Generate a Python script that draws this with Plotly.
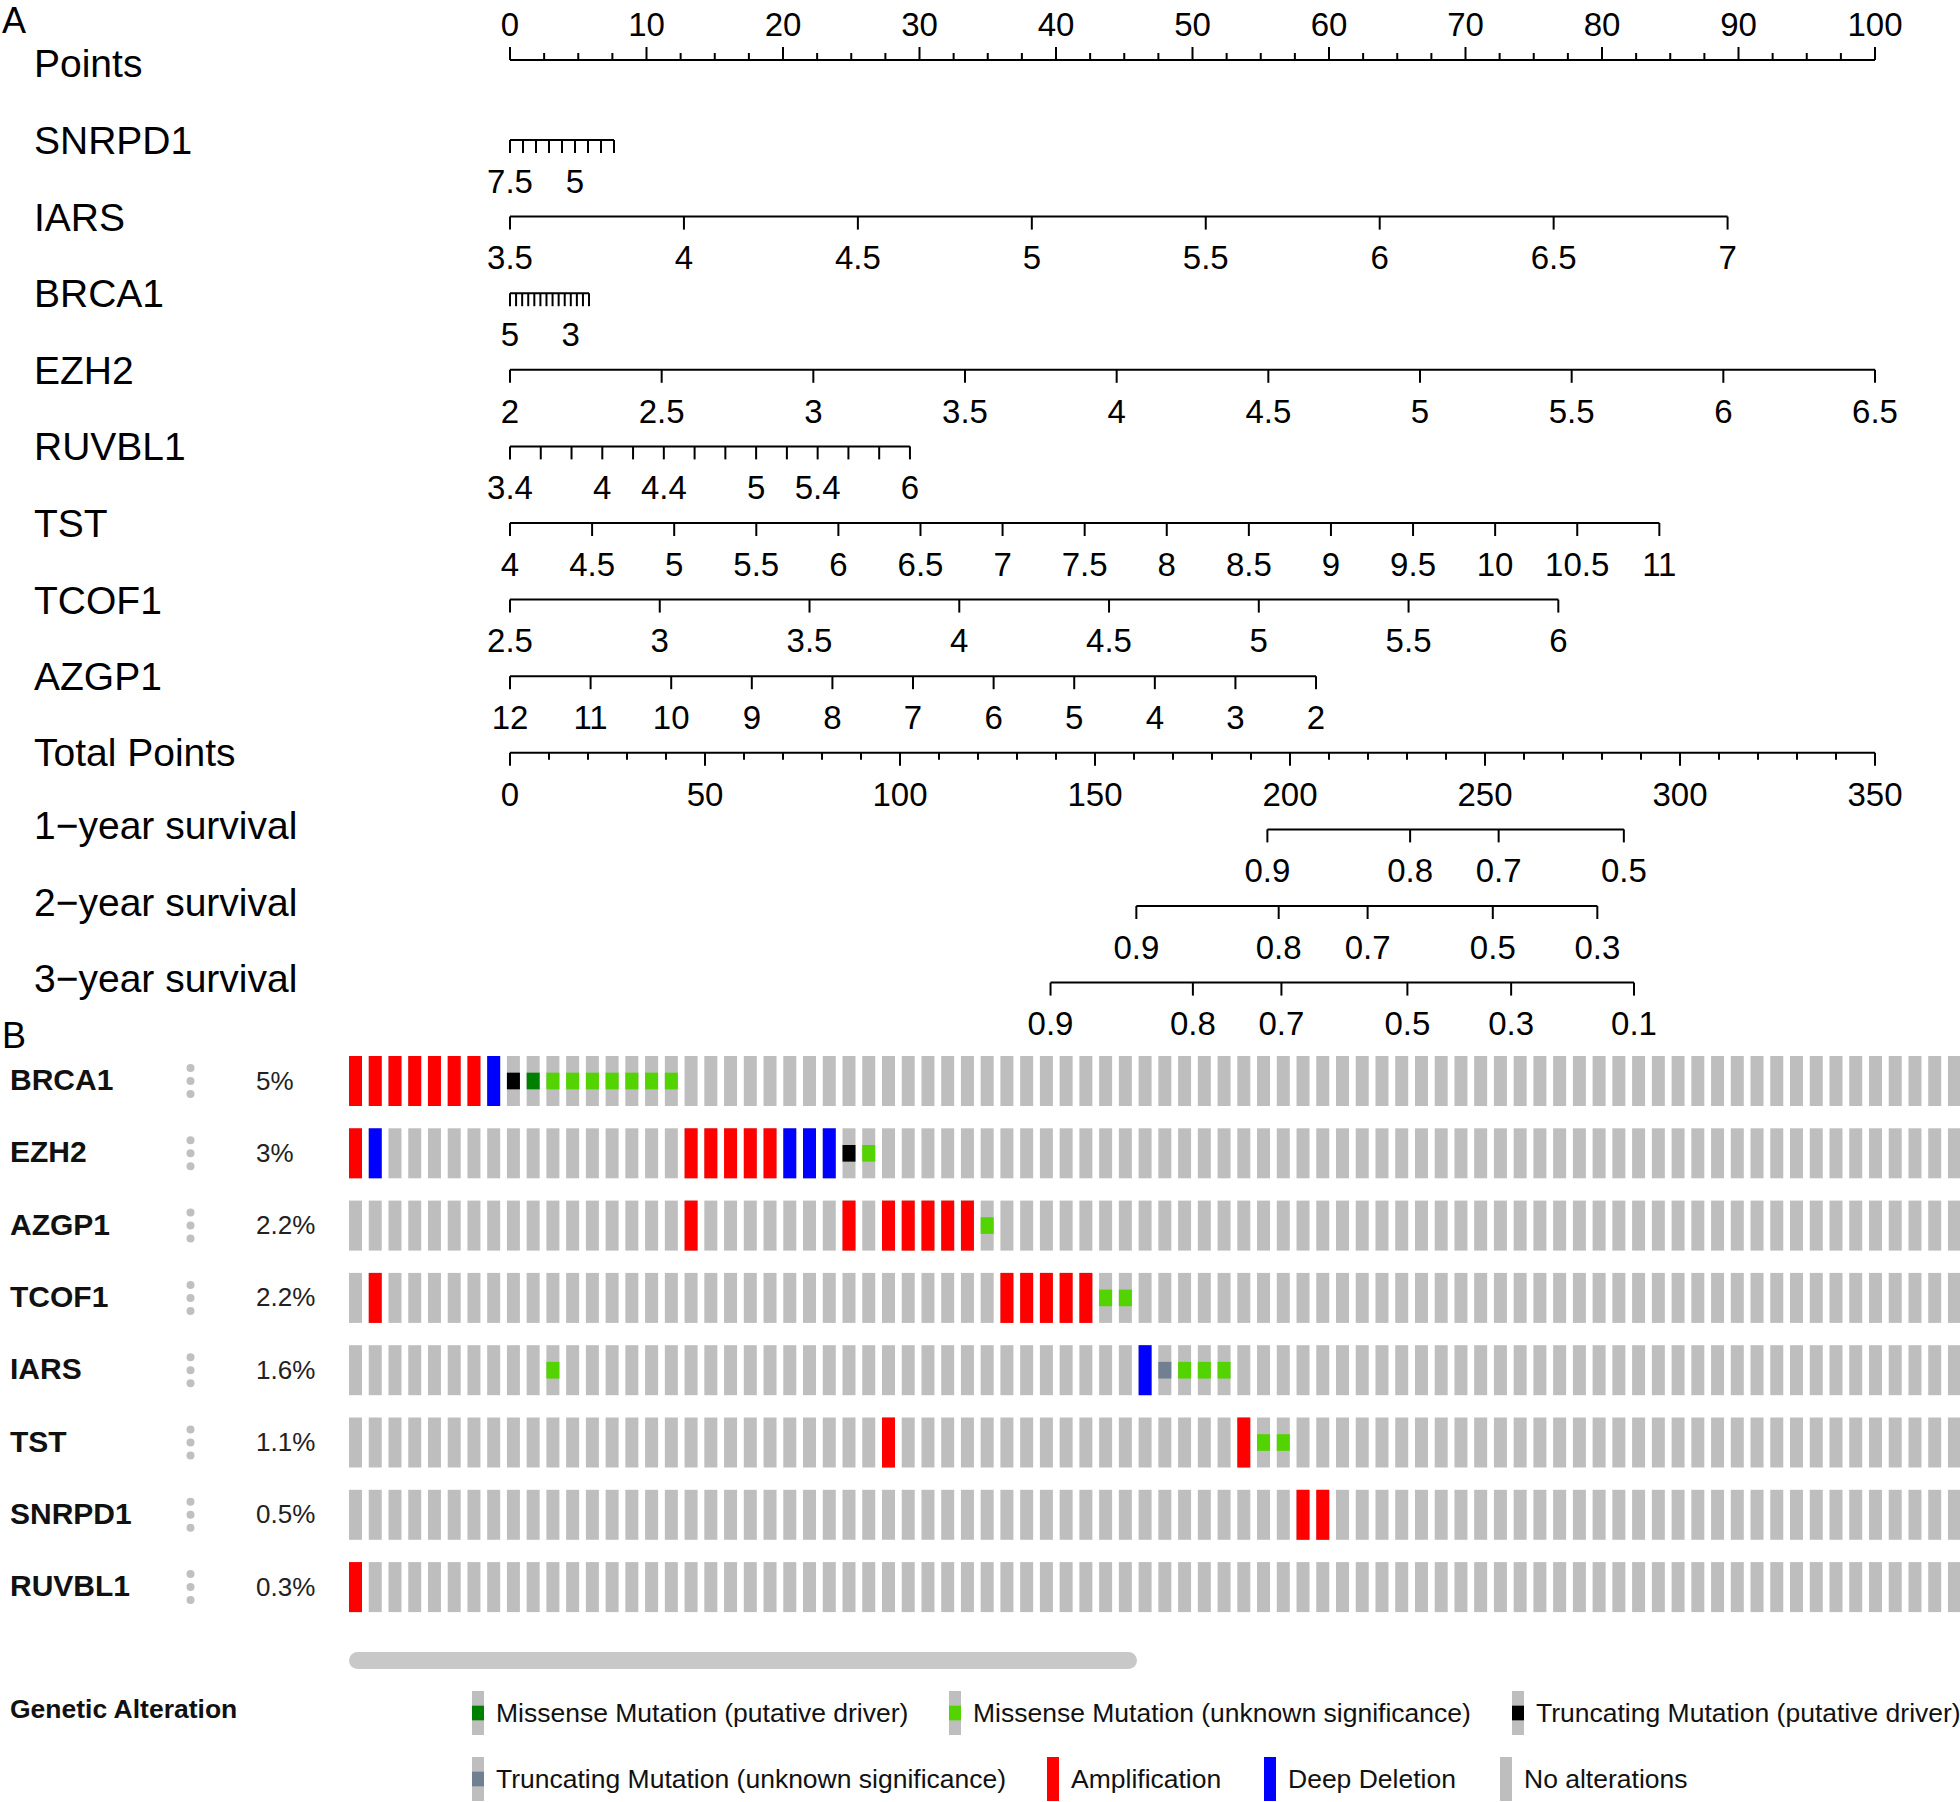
import plotly.graph_objects as go

W, H = 1960, 1802
FONT = "Liberation Sans, Arial, sans-serif"

# ---------------- A: nomogram data ----------------
points_major = [0, 10, 20, 30, 40, 50, 60, 70, 80, 90, 100]
points_minor_step = 2.5

snrpd1_ticks = [7.5, 7.0, 6.5, 6.0, 5.5, 5.0, 4.5, 4.0, 3.5]
snrpd1_labels = ["7.5", "", "", "", "", "5", "", "", ""]
snrpd1_end_points = 7.62

iars_ticks = [3.5, 4.0, 4.5, 5.0, 5.5, 6.0, 6.5, 7.0]
iars_labels = ["3.5", "4", "4.5", "5", "5.5", "6", "6.5", "7"]
iars_end_points = 89.2

brca1_ticks = [5.0, 4.8, 4.6, 4.4, 4.2, 4.0, 3.8, 3.6, 3.4, 3.2, 3.0, 2.8, 2.6, 2.4]
brca1_labels = ["5", "", "", "", "", "", "", "", "", "", "3", "", "", ""]
brca1_end_points = 5.79

ezh2_ticks = [2.0, 2.5, 3.0, 3.5, 4.0, 4.5, 5.0, 5.5, 6.0, 6.5]
ezh2_labels = ["2", "2.5", "3", "3.5", "4", "4.5", "5", "5.5", "6", "6.5"]
ezh2_end_points = 100.0

ruvbl1_ticks = [3.4, 3.6, 3.8, 4.0, 4.2, 4.4, 4.6, 4.8, 5.0, 5.2, 5.4, 5.6, 5.8, 6.0]
ruvbl1_labels = ["3.4", "", "", "4", "", "4.4", "", "", "5", "", "5.4", "", "", "6"]
ruvbl1_end_points = 29.3

tst_ticks = [4.0, 4.5, 5.0, 5.5, 6.0, 6.5, 7.0, 7.5, 8.0, 8.5, 9.0, 9.5, 10.0, 10.5, 11.0]
tst_labels = ["4", "4.5", "5", "5.5", "6", "6.5", "7", "7.5", "8", "8.5", "9", "9.5", "10", "10.5", "11"]
tst_end_points = 84.2

tcof1_ticks = [2.5, 3.0, 3.5, 4.0, 4.5, 5.0, 5.5, 6.0]
tcof1_labels = ["2.5", "3", "3.5", "4", "4.5", "5", "5.5", "6"]
tcof1_end_points = 76.8

azgp1_ticks = [12, 11, 10, 9, 8, 7, 6, 5, 4, 3, 2]
azgp1_labels = ["12", "11", "10", "9", "8", "7", "6", "5", "4", "3", "2"]
azgp1_end_points = 59.05

total_points_max = 350
total_major = [0, 50, 100, 150, 200, 250, 300, 350]
total_minor_step = 10

yr1_probs = ["0.9", "0.8", "0.7", "0.5"]
yr1_total_points = [194.2, 230.8, 253.5, 285.6]
yr2_probs = ["0.9", "0.8", "0.7", "0.5", "0.3"]
yr2_total_points = [160.6, 197.1, 219.9, 252.0, 278.8]
yr3_probs = ["0.9", "0.8", "0.7", "0.5", "0.3", "0.1"]
yr3_total_points = [138.6, 175.1, 197.8, 230.1, 256.7, 288.2]

# ---------------- B: oncoprint data ----------------
genes = ["BRCA1", "EZH2", "AZGP1", "TCOF1", "IARS", "TST", "SNRPD1", "RUVBL1"]
gene_pcts = ["5%", "3%", "2.2%", "2.2%", "1.6%", "1.1%", "0.5%", "0.3%"]
n_cols_visible = 82

amp_cells = {"BRCA1": [0, 1, 2, 3, 4, 5, 6], "EZH2": [0, 17, 18, 19, 20, 21],
             "AZGP1": [17, 25, 27, 28, 29, 30, 31], "TCOF1": [1, 33, 34, 35, 36, 37],
             "TST": [27, 45], "SNRPD1": [48, 49], "RUVBL1": [0]}
homdel_cells = {"BRCA1": [7], "EZH2": [1, 22, 23, 24], "IARS": [40]}
trunc_driver_cells = {"BRCA1": [8], "EZH2": [25]}
trunc_vus_cells = {"IARS": [41]}
missense_driver_cells = {"BRCA1": [9]}
missense_vus_cells = {"BRCA1": [10, 11, 12, 13, 14, 15, 16], "EZH2": [26], "AZGP1": [32],
                      "TCOF1": [38, 39], "IARS": [10, 42, 43, 44], "TST": [46, 47]}

legend_labels = ["Missense Mutation (putative driver)", "Missense Mutation (unknown significance)",
                 "Truncating Mutation (putative driver)", "Truncating Mutation (unknown significance)",
                 "Amplification", "Deep Deletion", "No alterations"]
legend_colors = ["#008000", "#53D400", "#000000", "#708090", "#ff0000", "#0000ff", "#bebebe"]
legend_small = [True, True, True, True, False, False, False]

GRAY, RED, BLUE = "#bebebe", "#ff0000", "#0000ff"

# ---------------- layout constants ----------------
X0_PX, PX_PER_PT = 510.0, 13.65
ROW0_LINE, ROW_STEP = 140.0, 76.6
TICK_LEN, MINOR_LEN = 13, 7
LAB_OFF = 44.5
COL0_PX, COL_PITCH, COL_W = 349.0, 19.74, 13.0
ONC_TOP0, ONC_STEP, ONC_H = 1056.0, 72.3, 50.0


def px2pts(px):
    return (px - X0_PX) / PX_PER_PT


def pxpaper(px):
    return px / W


fig = go.Figure()
line_style = dict(color="black", width=2)


def add_segments(xs_pairs, ys_pairs):
    xs, ys = [], []
    for (xa, xb), (ya, yb) in zip(xs_pairs, ys_pairs):
        xs += [xa, xb, None]
        ys += [ya, yb, None]
    fig.add_trace(go.Scatter(x=xs, y=ys, mode="lines", line=line_style,
                             xaxis="x", yaxis="y", hoverinfo="skip", showlegend=False))


def add_labels(xs, ys, texts, size=33):
    fig.add_trace(go.Scatter(x=xs, y=ys, text=texts, mode="text", textposition="middle center",
                             textfont=dict(family=FONT, size=size, color="black"),
                             xaxis="x", yaxis="y", hoverinfo="skip", showlegend=False))


# Points axis (ticks up, labels above)
ly = 60.0
minor = [i * points_minor_step for i in range(int(100 / points_minor_step) + 1)]
segs_x = [(0, 100)] + [(m, m) for m in minor]
segs_y = [(ly, ly)] + [(ly, ly - (TICK_LEN if m in points_major else MINOR_LEN)) for m in minor]
add_segments(segs_x, segs_y)
add_labels(points_major, [27.5] * len(points_major), [str(v) for v in points_major])

# variable axes
var_rows = [
    ("SNRPD1", snrpd1_ticks, snrpd1_labels, snrpd1_end_points),
    ("IARS", iars_ticks, iars_labels, iars_end_points),
    ("BRCA1", brca1_ticks, brca1_labels, brca1_end_points),
    ("EZH2", ezh2_ticks, ezh2_labels, ezh2_end_points),
    ("RUVBL1", ruvbl1_ticks, ruvbl1_labels, ruvbl1_end_points),
    ("TST", tst_ticks, tst_labels, tst_end_points),
    ("TCOF1", tcof1_ticks, tcof1_labels, tcof1_end_points),
    ("AZGP1", azgp1_ticks, azgp1_labels, azgp1_end_points),
]
row_names = ["Points"]
row_label_y = [ly + 3]
for k, (name, ticks, labels, endp) in enumerate(var_rows):
    y = ROW0_LINE + k * ROW_STEP
    v0, v1 = ticks[0], ticks[-1]
    pts = [(t - v0) / (v1 - v0) * endp for t in ticks]
    add_segments([(0, endp)] + [(p, p) for p in pts], [(y, y)] + [(y, y + TICK_LEN) for _ in pts])
    lx = [p for p, l in zip(pts, labels) if l]
    lt = [l for l in labels if l]
    add_labels(lx, [y + LAB_OFF] * len(lx), lt)
    row_names.append(name)
    row_label_y.append(y + 0.5)

# Total points axis
k = len(var_rows)
y = ROW0_LINE + k * ROW_STEP
scale = 100.0 / total_points_max
tm = [i * total_minor_step for i in range(int(total_points_max / total_minor_step) + 1)]
add_segments([(0, 100)] + [(t * scale, t * scale) for t in tm],
             [(y, y)] + [(y, y + (TICK_LEN if t in total_major else MINOR_LEN)) for t in tm])
add_labels([t * scale for t in total_major], [y + LAB_OFF] * len(total_major), [str(t) for t in total_major])
row_names.append("Total Points")
row_label_y.append(y - 0.5)

# survival axes
for j, (name, probs, tps) in enumerate([("1\u2212year survival", yr1_probs, yr1_total_points),
                                         ("2\u2212year survival", yr2_probs, yr2_total_points),
                                         ("3\u2212year survival", yr3_probs, yr3_total_points)]):
    y = ROW0_LINE + (k + 1 + j) * ROW_STEP
    xs = [t * scale for t in tps]
    add_segments([(xs[0], xs[-1])] + [(x, x) for x in xs], [(y, y)] + [(y, y + TICK_LEN) for _ in xs])
    add_labels(xs, [y + LAB_OFF] * len(xs), probs)
    row_names.append(name)
    row_label_y.append(y - 4)

annotations = []
for name, y in zip(row_names, row_label_y):
    annotations.append(dict(x=pxpaper(31.5), y=y, xref="paper", yref="y", text=name, showarrow=False,
                            xanchor="left", yanchor="middle", font=dict(family=FONT, size=39, color="black")))

annotations.append(dict(x=pxpaper(0), y=20, xref="paper", yref="y", text="A", showarrow=False,
                        xanchor="left", yanchor="middle", font=dict(family=FONT, size=36, color="black")))
annotations.append(dict(x=pxpaper(0), y=1035, xref="paper", yref="y", text="B", showarrow=False,
                        xanchor="left", yanchor="middle", font=dict(family=FONT, size=36, color="black")))

# ---------------- oncoprint ----------------
cw = COL_W / COL_PITCH
cx_off = cw / 2


def add_cells(cell_dict, color, small):
    xs, bases, hs = [], [], []
    for g, cols in cell_dict.items():
        r = genes.index(g)
        top = ONC_TOP0 + r * ONC_STEP
        for c in cols:
            xs.append(c + cx_off)
            if small:
                bases.append(top + ONC_H / 3)
                hs.append(ONC_H / 3)
            else:
                bases.append(top)
                hs.append(ONC_H)
    fig.add_trace(go.Bar(x=xs, y=hs, base=bases, width=cw, marker=dict(color=color, line=dict(width=0)),
                         xaxis="x2", yaxis="y", hoverinfo="skip", showlegend=False))


all_cells = {g: list(range(n_cols_visible)) for g in genes}
add_cells(all_cells, GRAY, False)
add_cells(amp_cells, RED, False)
add_cells(homdel_cells, BLUE, False)
add_cells(trunc_driver_cells, "#000000", True)
add_cells(trunc_vus_cells, "#708090", True)
add_cells(missense_driver_cells, "#008000", True)
add_cells(missense_vus_cells, "#53D400", True)

dot_x, dot_y = [], []
for r, (g, p) in enumerate(zip(genes, gene_pcts)):
    yc = ONC_TOP0 + r * ONC_STEP + ONC_H / 2
    annotations.append(dict(x=pxpaper(8), y=yc - 1.5, xref="paper", yref="y", text="<b>%s</b>" % g, showarrow=False,
                            xanchor="left", yanchor="middle", font=dict(family=FONT, size=30, color="#111")))
    annotations.append(dict(x=pxpaper(254), y=yc - 0.5, xref="paper", yref="y", text=p, showarrow=False,
                            xanchor="left", yanchor="middle", font=dict(family=FONT, size=26, color="#222")))
    for d in (-13, 0, 13):
        dot_x.append((190.5 - COL0_PX) / COL_PITCH)
        dot_y.append(yc + d)
fig.add_trace(go.Scatter(x=dot_x, y=dot_y, mode="markers", marker=dict(size=8, color="#c0c0c0"),
                         xaxis="x2", yaxis="y", hoverinfo="skip", showlegend=False))

shapes = []
# scrollbar
sb_x0, sb_x1, sb_y0, sb_y1 = 349, 1137, 1652, 1669
rr = (sb_y1 - sb_y0) / 2
shapes.append(dict(type="rect", xref="paper", yref="y", x0=pxpaper(sb_x0 + rr), x1=pxpaper(sb_x1 - rr),
                   y0=sb_y0, y1=sb_y1, fillcolor="#c8c8c8", line=dict(width=0)))
for cxp in (sb_x0, sb_x1 - 2 * rr):
    shapes.append(dict(type="circle", xref="paper", yref="y", x0=pxpaper(cxp), x1=pxpaper(cxp + 2 * rr),
                       y0=sb_y0, y1=sb_y1, fillcolor="#c8c8c8", line=dict(width=0)))

# legend
annotations.append(dict(x=pxpaper(8), y=1709, xref="paper", yref="y", text="<b>Genetic Alteration</b>",
                        showarrow=False, xanchor="left", yanchor="middle",
                        font=dict(family=FONT, size=26.5, color="#111")))
leg_glyph_x = [472, 949, 1512, 472, 1047, 1264, 1500]
leg_row_y = [(1691, 1735), (1691, 1735), (1691, 1735), (1757, 1801), (1757, 1801), (1757, 1801), (1757, 1801)]
for lab, col, sm, gx, (gy0, gy1) in zip(legend_labels, legend_colors, legend_small, leg_glyph_x, leg_row_y):
    gw = 12
    if sm:
        shapes.append(dict(type="rect", xref="paper", yref="y", x0=pxpaper(gx), x1=pxpaper(gx + gw),
                           y0=gy0, y1=gy1, fillcolor=GRAY, line=dict(width=0)))
        h3 = (gy1 - gy0) / 3
        shapes.append(dict(type="rect", xref="paper", yref="y", x0=pxpaper(gx), x1=pxpaper(gx + gw),
                           y0=gy0 + h3, y1=gy0 + 2 * h3, fillcolor=col, line=dict(width=0)))
    else:
        shapes.append(dict(type="rect", xref="paper", yref="y", x0=pxpaper(gx), x1=pxpaper(gx + gw),
                           y0=gy0, y1=gy1, fillcolor=col, line=dict(width=0)))
    annotations.append(dict(x=pxpaper(gx + gw + 10), y=(gy0 + gy1) / 2, xref="paper", yref="y", text=lab,
                            showarrow=False, xanchor="left", yanchor="middle",
                            font=dict(family=FONT, size=26.5, color="#111")))

fig.update_layout(
    width=W, height=H, margin=dict(l=0, r=0, t=0, b=0),
    paper_bgcolor="white", plot_bgcolor="white", barmode="overlay",
    xaxis=dict(range=[px2pts(0), px2pts(W)], domain=[0, 1], visible=False, fixedrange=True),
    xaxis2=dict(range=[(0 - COL0_PX) / COL_PITCH, (W - COL0_PX) / COL_PITCH], domain=[0, 1],
                overlaying="x", anchor="y", visible=False, fixedrange=True),
    yaxis=dict(range=[H, 0], domain=[0, 1], visible=False, fixedrange=True),
    annotations=annotations, shapes=shapes, showlegend=False, hovermode=False,
)

fig.write_html("out.html", config={"displayModeBar": False},
               post_script="document.body.style.margin='0';document.body.style.overflow='hidden';")
